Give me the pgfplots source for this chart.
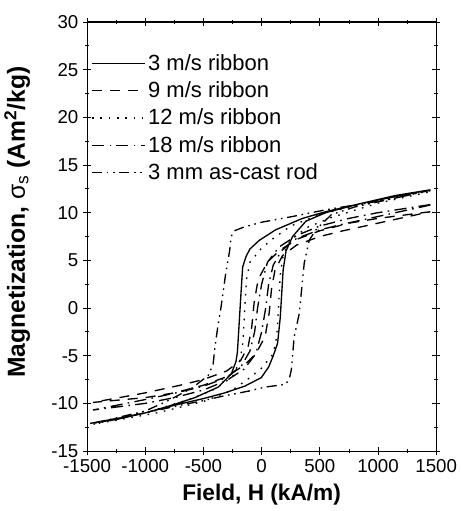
\documentclass[border=0pt]{standalone}
\usepackage{fontspec}
\setmainfont{Liberation Sans}
\usepackage{pgfplots}
\pgfplotsset{compat=1.18}

\begin{document}
\begin{tikzpicture}
\begin{axis}[
    scale only axis,
    width=262pt, height=322pt,
    xmin=-1500, xmax=1500,
    ymin=-15, ymax=30,
    xtick={-1500,-1000,...,1500},
    ytick={-15,-10,...,30},
    minor x tick num=1,
    minor y tick num=1,
    tick align=center,
    major tick length=6pt,
    minor tick length=3pt,
    tick style={line width=0.6pt, black},
    axis line style={line width=0.8pt},
    /pgf/number format/assume math mode=true,
    /pgf/number format/set thousands separator={},
    ticklabel style={font=\fontsize{14}{16}\selectfont},
    xlabel={\textbf{Field, H (kA/m)}},
    ylabel={\textbf{Magnetization, }{\mdseries σ}\textsubscript{s}\textbf{ (Am\textsuperscript{2}/kg)}},
    xlabel style={font=\fontsize{17}{19}\selectfont, at={(axis description cs:0.5,-0.102)}, anchor=center},
    ylabel style={font=\fontsize{18.5}{20}\selectfont, at={(axis description cs:-0.2,0.534)}, anchor=center},
    legend cell align=left,
    legend style={draw=none, fill=none, at={(axis description cs:0.012,0.93)}, anchor=north west,
        font=\fontsize{16.5}{18}\selectfont, row sep=4.1pt, inner sep=0pt,
        nodes={inner sep=1.5pt}},
    legend image code/.code={\draw[#1] (0pt,0pt) -- (40pt,0pt);},
    every axis plot/.append style={line width=1pt, black},
]
% 3 m/s ribbon
\addplot[solid] coordinates {
(1450,12.4)(866,11.0)(550,10.1)(351,9.4)(120,8.2)(-20,7.1)(-100,6.2)(-134,5.4)(-163,4.3)(-175,2)(-185,0)(-200,-3)(-208,-4.6)(-220,-5.6)(-260,-6.9)(-374,-8.3)(-574,-9.4)(-800,-10.3)(-1000,-11.0)(-1250,-11.6)(-1474,-12.1)
(-1250,-11.7)(-1000,-11.0)(-750,-10.2)(-500,-9.5)(-317,-8.9)(-146,-8.2)(-3,-7.3)(60,-6.2)(100,-5.0)(137,-3.7)(160,-1)(170,1)(185,4)(210,6)(266,7.5)(380,9.1)(550,10.0)(866,11.0)(1150,11.8)(1450,12.4)
};
% 9 m/s ribbon
\addplot[dash pattern=on 7.5pt off 6pt] coordinates {
(1450,10.1)(1000,9.4)(750,8.9)(500,8.1)(300,7.2)(150,6.0)(50,4.8)(-30,3.0)(-65,0.5)(-85,-2)(-115,-4)(-180,-5.5)(-300,-6.6)(-500,-7.5)(-700,-8.1)(-1000,-8.9)(-1450,-9.9)
(-1000,-9.4)(-750,-8.9)(-500,-8.1)(-300,-7.2)(-150,-6.0)(-50,-4.8)(30,-3.0)(65,-0.5)(85,2)(115,4)(180,5.5)(300,6.6)(500,7.5)(700,8.1)(1000,8.9)(1450,10.1)
};
% 12 m/s ribbon
\addplot[dash pattern=on 1.2pt off 5pt] coordinates {
(1450,12.3)(900,11.0)(500,9.8)(250,8.6)(100,7.3)(0,6.3)(-100,4.8)(-130,3)(-145,0)(-160,-3.5)(-185,-5.5)(-250,-7.2)(-400,-8.5)(-600,-9.5)(-1000,-11)(-1450,-12.2)
(-900,-11.0)(-500,-9.8)(-250,-8.6)(-100,-7.3)(0,-6.3)(100,-4.8)(130,-3)(145,0)(160,3.5)(185,5.5)(250,7.2)(400,8.5)(600,9.5)(1000,11)(1450,12.2)
};
% 18 m/s ribbon
\addplot[dash pattern=on 9pt off 4pt on 1.2pt off 4pt] coordinates {
(1450,10.85)(1000,10.0)(750,9.4)(500,8.6)(300,7.6)(150,6.4)(50,4.8)(0,2.5)(-35,0)(-60,-2.5)(-100,-4.5)(-170,-6)(-300,-7.3)(-500,-8.2)(-700,-8.8)(-1000,-9.6)(-1450,-10.7)
(-1000,-10.0)(-750,-9.4)(-500,-8.6)(-300,-7.6)(-150,-6.4)(-50,-4.8)(0,-2.5)(35,0)(60,2.5)(100,4.5)(170,6)(300,7.3)(500,8.2)(700,8.8)(1000,9.6)(1450,10.8)
};
% 3 mm as-cast rod
\addplot[dash pattern=on 7.5pt off 3.5pt on 1.2pt off 3.5pt on 1.2pt off 3.5pt] coordinates {
(1450,12.35)(1100,11.4)(850,10.9)(550,10.3)(266,9.6)(0,9.0)(-150,8.5)(-234,8.1)(-262,7.5)(-275,6)(-310,3.5)(-350,0)(-375,-1.8)(-400,-4)(-417,-5.9)(-460,-7.1)(-600,-8.4)(-800,-9.7)(-1000,-10.8)(-1450,-12.1)
(-1000,-11.0)(-700,-10.2)(-517,-9.75)(-317,-9.2)(-106,-8.7)(26,-8.3)(209,-8.0)(240,-7.3)(255,-6.5)(280,-3)(323,-0.6)(366,4.7)(409,7.1)(466,8.2)(600,9.8)(800,10.6)(1100,11.4)(1450,12.35)
};
\legend{3 m/s ribbon, 9 m/s ribbon, 12 m/s ribbon, 18 m/s ribbon, 3 mm as-cast rod}
\end{axis}
\path ([xshift=-62pt]current axis.west) ([xshift=16.5pt]current axis.east)
      ([yshift=16.5pt]current axis.north) ([yshift=-45pt]current axis.south);
\end{tikzpicture}
\end{document}
